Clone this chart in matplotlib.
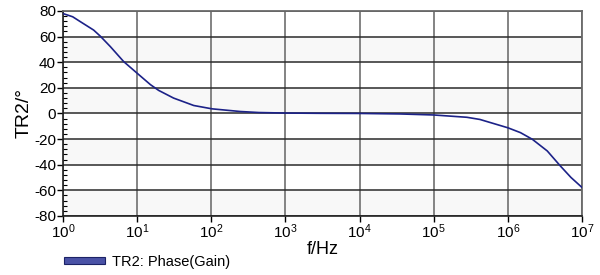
import matplotlib
matplotlib.use("Agg")
import matplotlib.pyplot as plt
from matplotlib.patches import Patch
from matplotlib.ticker import MultipleLocator, LogLocator, NullLocator

# values
freq = [1, 1.35, 1.71, 2.59, 3.19, 4.35, 6.58, 10, 15.1, 19.5, 31, 58, 102,
        247, 440, 1000, 3000, 1e4, 3.5e4, 1e5, 2.8e5, 4.2e5, 1e6, 1.48e6,
        2.14e6, 3.4e6, 5.1e6, 7.1e6, 1e7]
phase = [78, 75.5, 71.7, 65.1, 60.3, 52.2, 40.5, 31.4, 22.5, 18, 12, 6.2, 3.6,
         1.5, 0.7, 0.3, 0.1, 0, -0.4, -1.2, -3, -4.7, -11.2, -15, -20.2,
         -29.3, -41, -50, -57.8]
shaded_bands = [(40, 60), (0, 20), (-40, -20), (-80, -60)]
series_label = "TR2: Phase(Gain)"

plt.rcParams["font.family"] = ["Liberation Sans", "DejaVu Sans"]
plt.rcParams["mathtext.fontset"] = "custom"
plt.rcParams["mathtext.rm"] = "Liberation Sans"
plt.rcParams["mathtext.it"] = "Liberation Sans"
plt.rcParams["axes.unicode_minus"] = False

fig = plt.figure(figsize=(6, 2.75), dpi=100)
ax = fig.add_axes([0.105, 0.215, 0.865, 0.745])

for lo, hi in shaded_bands:
    ax.axhspan(lo, hi, color="#f8f8f8", zorder=0, lw=0)

ax.plot(freq, phase, color="#1c2288", lw=1.2, zorder=3)

ax.set_xscale("log")
ax.set_xlim(1, 1e7)
ax.set_ylim(-80, 80)

ax.xaxis.set_major_locator(LogLocator(base=10, numticks=10))
ax.xaxis.set_minor_locator(NullLocator())
ax.yaxis.set_major_locator(MultipleLocator(20))
ax.yaxis.set_minor_locator(MultipleLocator(4))

ax.grid(True, axis="x", which="major", color="#7a7a7a", lw=1.3, zorder=1)
ax.grid(True, axis="y", which="major", color="#2a2a2a", lw=1.1, zorder=1)

ax.tick_params(axis="both", which="major", direction="out", length=4,
               width=1, labelsize=11, pad=1, colors="black")
ax.tick_params(axis="y", which="minor", direction="in", length=3, width=0.8)

for side in ("left", "bottom"):
    ax.spines[side].set_color("#222222")
    ax.spines[side].set_linewidth(1.2)
for side in ("top", "right"):
    ax.spines[side].set_color("#6a6a6a")
    ax.spines[side].set_linewidth(1.3)

ax.set_xlabel("f/Hz", fontsize=13, labelpad=0)
ax.set_ylabel("TR2/°", fontsize=14, labelpad=1)

handle = Patch(facecolor="#4a52a6", edgecolor="#1c2266", lw=0.8)
fig.legend([handle], [series_label], loc="lower left",
           bbox_to_anchor=(0.085, -0.025), frameon=False, fontsize=10.5,
           handlelength=2.8, handleheight=0.35, handletextpad=0.5)

fig.savefig("out.png", dpi=100)
